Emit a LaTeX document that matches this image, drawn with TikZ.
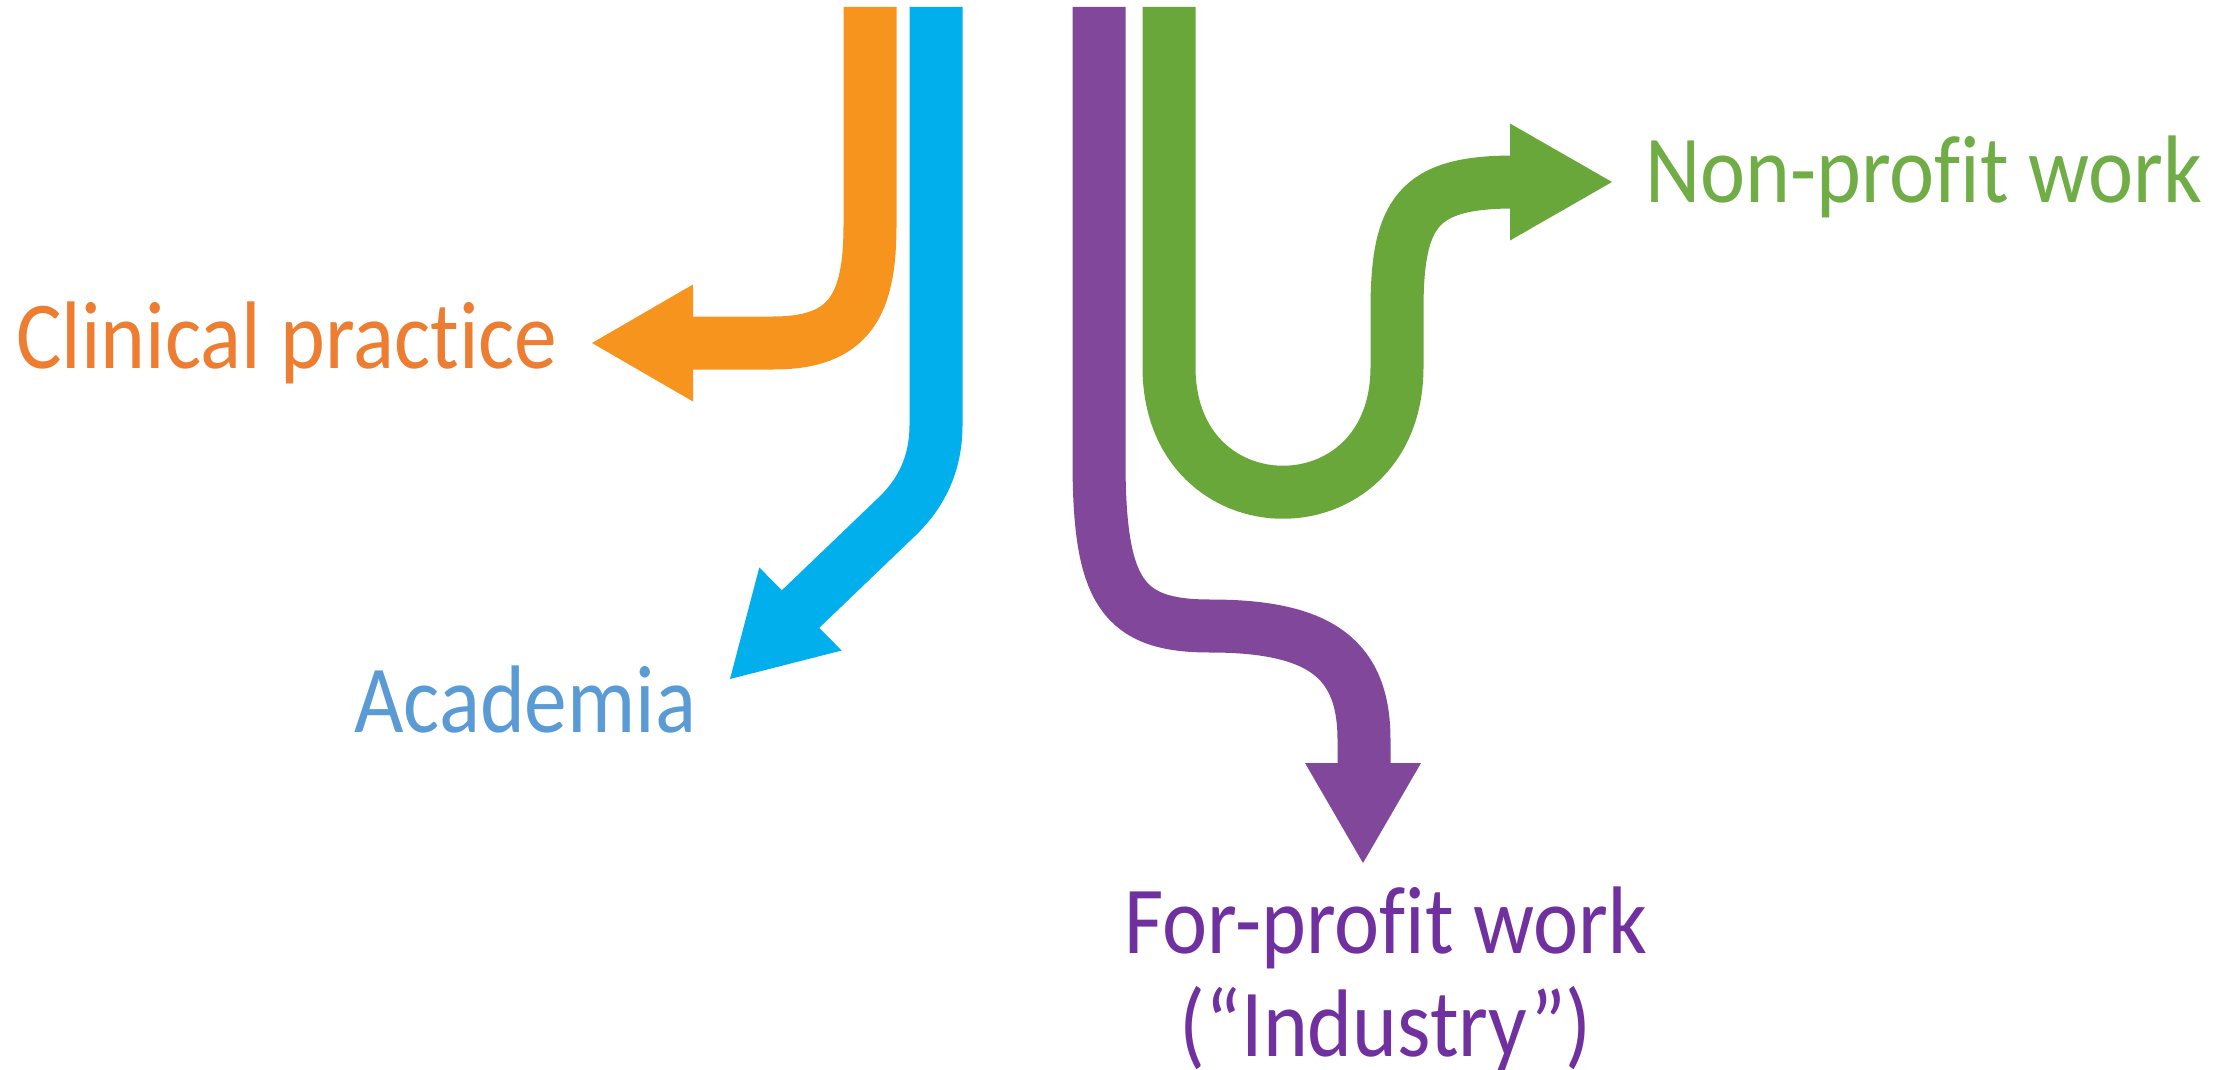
\documentclass[tikz,border=0pt]{standalone}
\usepackage{fontspec}
\setmainfont{Carlito}[Ligatures=NoCommon, FakeStretch=0.89]
\definecolor{orgA}{HTML}{F7941D}
\definecolor{orgT}{HTML}{ED7D31}
\definecolor{bluA}{HTML}{00AFEC}
\definecolor{bluT}{HTML}{5B9BD5}
\definecolor{purA}{HTML}{81479B}
\definecolor{purT}{HTML}{7030A0}
\definecolor{grnA}{HTML}{69A73B}
\definecolor{grnT}{HTML}{70AD47}
\begin{document}
\begin{tikzpicture}[x=1pt,y=-1pt,
  band/.style={line width=53pt, line cap=butt, line join=round},
  lab/.style={inner sep=0pt, font=\fontsize{96pt}{103pt}\selectfont}]
\useasboundingbox (0,0) rectangle (2236,1070);
% start points
\coordinate (oS) at (870,7);
\coordinate (bS) at (936,7);
\coordinate (pS) at (1099,7);
\coordinate (gS) at (1169,7);
% head tips
\coordinate (oT) at (592,343);
\coordinate (bT) at (730,679);
\coordinate (pT) at (1363,863);
\coordinate (gT) at (1612,182);
% orange: clinical practice
\draw[band, orgA] (oS) -- (870,225) .. controls (870,305) and (850,343) .. (773,343) -- (689,343);
\fill[orgA] (693,284.5) -- (oT) -- (693,401.5) -- cycle;
% blue: academia
\draw[band, bluA] (bS) -- (936,425) .. controls (936,462) and (922.6,492.5) .. (895.9,517.6) -- (798,611.5);
\fill[bluA] (759.3,567.5) -- (bT) -- (841.7,650.5) -- cycle;
% purple: for-profit
\draw[band, purA] (pS) -- (1099,460) .. controls (1099,592) and (1122,626) .. (1210,626) .. controls (1322,626) and (1364,660) .. (1364,740) -- (1364,767);
\fill[purA] (1305,763) -- (pT) -- (1421,763) -- cycle;
% green: non-profit
\draw[band, grnA] (gS) -- (1169,367) .. controls (1169,534) and (1397,534) .. (1397,367) -- (1397,310) .. controls (1397,212) and (1418,182) .. (1514,182);
\fill[grnA] (1510,123.5) -- (gT) -- (1510,240.5) -- cycle;
% labels
\node[lab, text=orgT, anchor=base west] (cp) at (16,368) {Clinical practice};
\node[lab, text=grnT, anchor=base west] (np) at (1645,202) {Non-profit work};
\node[lab, text=bluT, anchor=base west] (ac) at (354,732) {Academia};
\node[lab, text=purT, anchor=base] (fp) at (1386,953) {For-profit work};
\node[lab, text=purT, anchor=base] (fpb) at (1386,1056) {(“Industry”)};
\end{tikzpicture}
\end{document}
